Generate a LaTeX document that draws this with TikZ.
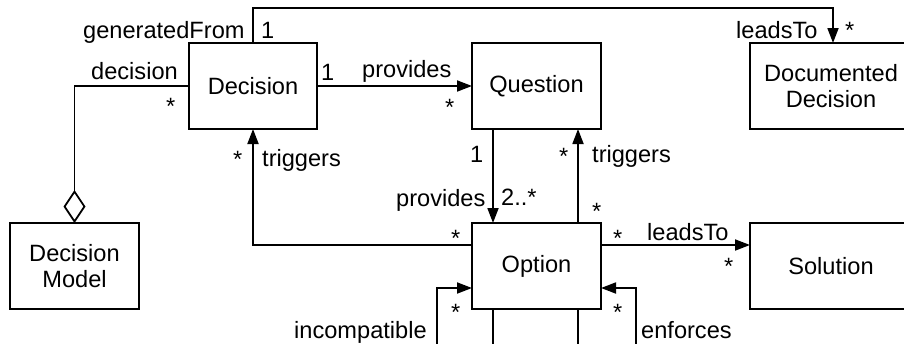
\documentclass[tikz,border=0pt]{standalone}
\usepackage{fontspec}
\setmainfont{Liberation Sans}
\usetikzlibrary{arrows.meta}

\tikzset{
  cls/.style={draw, line width=1.8pt, rectangle, inner sep=0pt, outer sep=0pt,
              align=center, minimum height=86pt},
  assoc/.style={line width=1.8pt, -{Triangle[length=15pt,width=11pt]}},
  aggr/.style={line width=1.8pt, {Diamond[open,length=33pt,width=22pt]}-},
  lbl/.style={inner sep=0pt, anchor=base west},
}

\begin{document}
\begin{tikzpicture}[x=1pt, y=-1pt,
  every node/.style={font=\fontsize{23.6}{26.7}\selectfont}]
  \useasboundingbox (0,0) rectangle (904,343);
  \clip (0,0) rectangle (904,343);

  % classes
  \node[cls, minimum width=128pt] (dec) at (253,86)   {Decision};
  \node[cls, minimum width=129pt] (q)   at (536.5,86) {Question};
  \node[cls, minimum width=162pt] (dd)  at (831,86)   {Documented\\Decision};
  \node[cls, minimum width=129pt] (dm)  at (74.5,266) {Decision\\Model};
  \node[cls, minimum width=129pt] (o)   at (536.5,266){Option};
  \node[cls, minimum width=162pt] (sol) at (831,266)  {Solution};

  % helper points for routed connectors
  \coordinate (gtop)  at (833,8);
  \coordinate (incl)  at (437,370);
  \coordinate (enfl)  at (636,370);

  % connectors
  \draw[aggr]  (dm.north) |- (dec.west);
  \draw[assoc] (dec.north) |- (gtop) -- (gtop |- dd.north);
  \draw[assoc] (dec.east) -- (q.west);
  \draw[assoc] ([xshift=21pt]q.south west) -- ([xshift=21pt]o.north west);
  \draw[assoc] ([xshift=-23pt]o.north east) -- ([xshift=-23pt]q.south east);
  \draw[assoc] ([yshift=21pt]o.west) -| (dec.south);
  \draw[assoc] ([yshift=21pt]o.east) -- ([yshift=21pt]o.east -| sol.west);
  \draw[assoc] ([xshift=21pt]o.south west) |- (incl) |- ([yshift=-22pt]o.west);
  \draw[assoc] ([xshift=-23pt]o.south east) |- (enfl) |- ([yshift=-22pt]o.east);

  % role names and multiplicities
  \node[lbl] (l1)  at (83,38)   {generatedFrom};
  \node[lbl] (l2)  at (261,38)  {1};
  \node[lbl] (l3)  at (91,79)   {decision};
  \node[lbl] (l4)  at (166,114) {*};
  \node[lbl] (l5)  at (321,80)  {1};
  \node[lbl] (l6)  at (362,77)  {provides};
  \node[lbl] (l7)  at (445,115) {*};
  \node[lbl] (l8)  at (736,38)  {leadsTo};
  \node[lbl] (l9)  at (845,38)  {*};
  \node[lbl] (l10) at (470,162) {1};
  \node[lbl] (l11) at (559,164) {*};
  \node[lbl] (l12) at (592,162) {triggers};
  \node[lbl] (l13) at (233,167) {*};
  \node[lbl] (l14) at (262,166) {triggers};
  \node[lbl] (l15) at (396,206) {provides};
  \node[lbl] (l16) at (501,205) {2..*};
  \node[lbl] (l17) at (592,219) {*};
  \node[lbl] (l18) at (451,246) {*};
  \node[lbl] (l19) at (613,246) {*};
  \node[lbl] (l20) at (647,240) {leadsTo};
  \node[lbl] (l21) at (724,274) {*};
  \node[lbl] (l22) at (451,320) {*};
  \node[lbl] (l23) at (613,320) {*};
  \node[lbl] (l24) at (294,338) {incompatible};
  \node[lbl] (l25) at (641,338) {enforces};
\end{tikzpicture}
\end{document}
